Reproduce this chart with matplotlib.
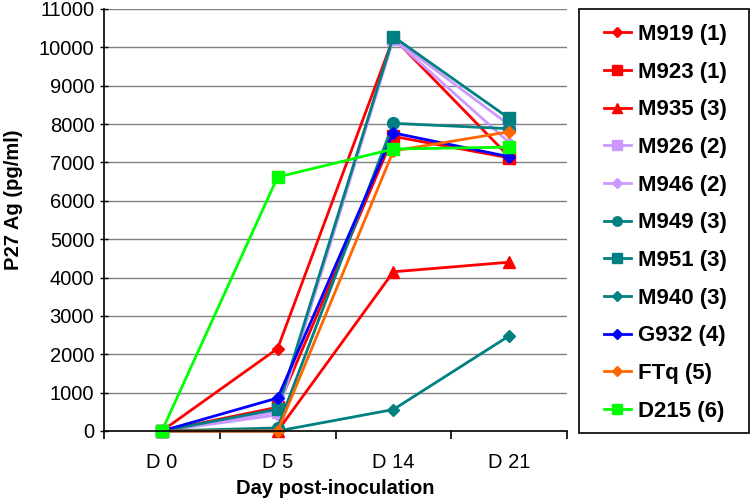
import matplotlib.pyplot as plt
from matplotlib.patches import Rectangle
import numpy as np

plt.rcParams['font.family'] = ['Liberation Sans', 'DejaVu Sans']

days = ['D 0', 'D 5', 'D 14', 'D 21']

m919 = [0, 2150, 10250, 7150]
m923 = [0, 620, 7680, 7120]
m935 = [0, 0, 4150, 4400]
m926 = [0, 500, 10230, 7980]
m946 = [0, 420, 10220, 7520]
m949 = [0, 80, 8020, 7880]
m951 = [0, 570, 10280, 8150]
m940 = [0, 0, 560, 2480]
g932 = [0, 860, 7770, 7150]
ftq = [0, 0, 7300, 7800]
d215 = [0, 6620, 7350, 7400]

names = ['M919 (1)', 'M923 (1)', 'M935 (3)', 'M926 (2)', 'M946 (2)', 'M949 (3)',
         'M951 (3)', 'M940 (3)', 'G932 (4)', 'FTq (5)', 'D215 (6)']
series = [m919, m923, m935, m926, m946, m949, m951, m940, g932, ftq, d215]
colors = ['#ff0000', '#ff0000', '#ff0000', '#cc99ff', '#cc99ff', '#008080',
          '#008080', '#008080', '#0000ff', '#ff6600', '#00ff00']
markers = ['D', 's', '^', 's', 'D', 'o', 's', 'D', 'D', 'D', 's']
msizes = [6.5, 8.5, 9, 8.5, 6.5, 8.5, 8.5, 6.5, 6.5, 6.5, 8.5]

fig = plt.figure(figsize=(7.56, 5.04), dpi=100)
ax = fig.add_axes([104/756, 1 - 431/504, 463/756, 422/504])

x = np.arange(len(days))
lines = []
for vals, name, c, m, ms in zip(series, names, colors, markers, msizes):
    ln, = ax.plot(x, vals, color=c, marker=m, markersize=ms, linewidth=2,
                  label=name, clip_on=False)
    lines.append(ln)

ax.set_xlim(-0.5, 3.5)
ax.set_ylim(0, 11000)
ax.set_yticks(np.arange(0, 11001, 1000))
ax.yaxis.grid(True, color='#808080', linewidth=1)
ax.set_axisbelow(True)

ax.set_xticks(x)
ax.set_xticklabels(days)
ax.set_xticks(np.arange(-0.5, 3.6, 1), minor=True)
ax.tick_params(axis='x', which='major', length=0, labelsize=14.5, pad=16)
ax.tick_params(axis='x', which='minor', length=6, width=1.2, direction='out')
ax.tick_params(axis='y', length=6, width=1, direction='inout', labelsize=14.5, pad=4)

for s in ['top', 'right']:
    ax.spines[s].set_visible(False)
ax.spines['left'].set_linewidth(1.2)
ax.spines['bottom'].set_linewidth(1.2)

ax.set_xlabel('Day post-inoculation', fontsize=14.5, fontweight='bold', labelpad=5)
ax.set_ylabel('P27 Ag (pg/ml)', fontsize=14.5, fontweight='bold')
ax.yaxis.set_label_coords(-0.175, 0.547)

# legend frame drawn separately so that side and top padding can differ
fig.patches.append(Rectangle((579/756, 1 - 433/504), 170/756, 424/504,
                             transform=fig.transFigure, fill=False,
                             edgecolor='black', linewidth=1.2))
leg = fig.legend(lines, names, loc='upper left', bbox_to_anchor=(604/756, 1 - 24/504),
                 frameon=False, prop={'weight': 'bold', 'size': 16},
                 handlelength=1.2, labelspacing=0.75, borderpad=0,
                 handletextpad=0.35, borderaxespad=0, markerscale=0.8)

fig.savefig('out.png', dpi=100)
